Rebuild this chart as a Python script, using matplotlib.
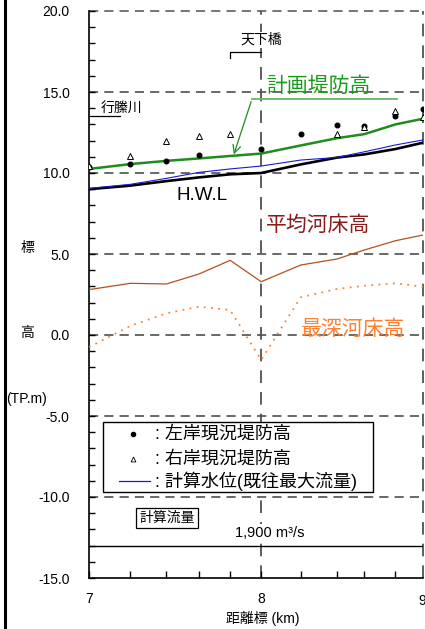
import numpy as np
import matplotlib
matplotlib.use('Agg')
import matplotlib.pyplot as plt
import matplotlib.lines as mlines

plt.rcParams['font.family'] = ['Liberation Sans', 'Noto Sans CJK JP', 'DejaVu Sans']

# --- data ---
km = [7.0, 7.24, 7.45, 7.64, 7.82, 8.0, 8.23, 8.44, 8.6, 8.78, 8.94]
plan_levee = [10.25, 10.55, 10.75, 10.9, 11.05, 11.2, 11.7, 12.15, 12.4, 13.0, 13.35]
hwl = [9.0, 9.22, 9.5, 9.73, 9.92, 10.0, 10.53, 10.95, 11.15, 11.48, 11.87]
calc_wl = [9.05, 9.3, 9.67, 10.04, 10.25, 10.43, 10.8, 10.96, 11.31, 11.73, 12.04]
mean_bed = [2.8, 3.19, 3.15, 3.77, 4.61, 3.29, 4.32, 4.69, 5.25, 5.82, 6.17]
deep_bed = [-0.75, 0.56, 1.34, 1.75, 1.54, -1.54, 2.33, 2.84, 3.04, 3.19, 2.98]

left_km = [7.0, 7.24, 7.45, 7.64, 8.0, 8.23, 8.44, 8.6, 8.78, 8.94]
left_bank = [10.39, 10.53, 10.74, 11.11, 11.48, 12.43, 12.94, 12.92, 13.54, 13.95]
right_km = [7.0, 7.24, 7.45, 7.64, 7.82, 8.44, 8.6, 8.78, 8.94]
right_bank = [10.45, 11.02, 12.0, 12.3, 12.4, 12.39, 12.82, 13.83, 13.45]

flow_level = -13.0
yticks = [20, 15, 10, 5, 0, -5, -10, -15]

fig = plt.figure(figsize=(4.25, 6.29), dpi=100)
ax = fig.add_axes([89/425, 51/629, 334/425, 567/629])
ax.set_xlim(7, 8.94)
ax.set_ylim(-15, 20)

# grid (dashed)
for y in [15, 10, 5, 0, -5, -10]:
    ax.axhline(y, color='#404040', lw=1.1, ls=(0, (6, 4)), zorder=1)
ax.axhline(20, color='#505050', lw=1.1, ls=(0, (6, 4)), zorder=1, clip_on=False)
ax.axvline(8.0, color='#505050', lw=1.3, ls=(0, (7, 5)), zorder=1)
ax.axvline(8.94, color='#505050', lw=1.3, ls=(0, (7, 5)), zorder=1, clip_on=False)
ax.spines['top'].set_visible(False)
ax.spines['right'].set_visible(False)
ax.spines['left'].set_linewidth(1.2)
ax.spines['bottom'].set_linewidth(1.2)

# lines
ax.plot(km, mean_bed, color='#b4501e', lw=0.9, zorder=3)
ax.plot(km, deep_bed, color='#ff8030', lw=1.3, ls=(0, (1, 3)), zorder=3)
ax.plot(km, hwl, color='black', lw=1.9, zorder=4)
ax.plot(km, calc_wl, color='#1a1ad0', lw=0.8, zorder=5)
ax.plot(km, plan_levee, color='#1e8c1e', lw=1.8, zorder=5)
ax.plot(left_km, left_bank, 'o', color='black', ms=3.3, zorder=6)
ax.plot(right_km, right_bank, '^', mfc='white', mec='black', mew=0.7, ms=4, zorder=6)

# flow line
ax.axhline(flow_level, color='black', lw=1.0, zorder=2)

# ticks
ax.set_yticks(yticks)
ax.set_yticklabels(['%.1f' % v for v in yticks])
ax.set_yticks(np.arange(-15, 21, 1), minor=True)
ax.tick_params(axis='y', which='both', direction='in', length=4, width=1, pad=14, labelsize=10)
ax.set_xticks(km[1:-1], minor=True)
ax.set_xticks([7, 8])
ax.set_xticklabels(['7', '8'])
ax.tick_params(axis='x', which='both', direction='in', length=5, width=1, pad=10, labelsize=10)
ax.text(8.955, -16.0, '9', ha='right', va='top', fontsize=10, clip_on=False)

# y label pieces
fig.text(27/425, 1 - 248/629, '標', ha='center', va='center', fontsize=10)
fig.text(27/425, 1 - 333/629, '高', ha='center', va='center', fontsize=10)
fig.text(27/425, 1 - 399/629, '(TP.m)', ha='center', va='center', fontsize=10)
fig.text(263/425, 1 - 618/629, '距離標 (km)', ha='center', va='center', fontsize=10)

# left border line of the figure
fig.add_artist(mlines.Line2D([5/425, 5/425], [0, 1], color='black', lw=2.2))

def px(x, y):
    # pixel (from top-left) -> figure fraction
    return (x / 425, 1 - y / 629)

# annotations
fig.text(*px(101, 108), '行縢川', ha='left', va='center', fontsize=10)
fig.add_artist(mlines.Line2D([89/425, 120/425], [1 - 116/629, 1 - 116/629], color='black', lw=0.9))

fig.text(*px(261, 40), '天下橋', ha='center', va='center', fontsize=10,
         bbox=dict(boxstyle='square,pad=0.1', fc='white', ec='none'))
fig.add_artist(mlines.Line2D([230/425, 230/425, 261/425], [1 - 58/629, 1 - 52/629, 1 - 52/629],
                             color='black', lw=0.9))

fig.text(*px(318, 86), '計画堤防高', ha='center', va='center', fontsize=15, color='#1a9a1a')
fig.add_artist(mlines.Line2D([252/425, 397/425], [1 - 99/629, 1 - 99/629], color='#66b866', lw=1.3))
ax.annotate('', xy=px(233, 157), xycoords='figure fraction',
            xytext=px(252, 99), textcoords='figure fraction',
            arrowprops=dict(arrowstyle='->', color='#1e8c1e', lw=0.9, mutation_scale=14))

fig.text(*px(202, 196), 'H.W.L', ha='center', va='center', fontsize=13.5, color='black')
fig.text(*px(318, 225), '平均河床高', ha='center', va='center', fontsize=15, color='#8b1a1a')
fig.text(*px(353, 329), '最深河床高', ha='center', va='center', fontsize=15, color='#ff8030')

# legend box
leg = plt.Rectangle(px(103, 492), (373 - 103) / 425, (492 - 422) / 629, transform=fig.transFigure,
                    fill=True, fc='white', ec='black', lw=1.0, zorder=7)
fig.add_artist(leg)
fig.add_artist(mlines.Line2D([133/425], [1 - 434/629], marker='o', color='black', ms=3,
                             ls='none', zorder=8))
fig.add_artist(mlines.Line2D([133/425], [1 - 459/629], marker='^', mfc='white', mec='black',
                             mew=0.6, ms=3.5, ls='none', zorder=8))
fig.add_artist(mlines.Line2D([119/425, 150/425], [1 - 481/629, 1 - 481/629], color='#1a1ad0',
                             lw=0.9, zorder=8))
fig.text(*px(155, 434), ': 左岸現況堤防高', ha='left', va='center', fontsize=13, zorder=8)
fig.text(*px(155, 459), ': 右岸現況堤防高', ha='left', va='center', fontsize=13, zorder=8)
fig.text(*px(155, 481), ': 計算水位(既往最大流量)', ha='left', va='center', fontsize=13, zorder=8)

fig.text(*px(167, 518), '計算流量', ha='center', va='center', fontsize=10,
         bbox=dict(boxstyle='square,pad=0.2', fc='white', ec='black', lw=0.9))
fig.text(*px(270, 533), '1,900 m³/s', ha='center', va='center', fontsize=10.5,
         bbox=dict(boxstyle='square,pad=0.15', fc='white', ec='none'))

fig.savefig('out.png', dpi=100)
